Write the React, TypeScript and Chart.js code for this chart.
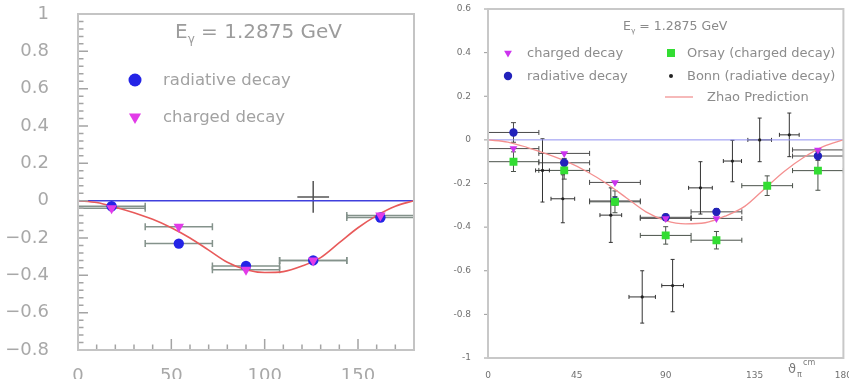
import React, { useEffect, useRef } from 'react';
import { Chart, registerables } from 'chart.js';

Chart.register(...registerables);

const FONT = "'DejaVu Sans', 'Liberation Sans', sans-serif";

// ---------- shared prediction curve (Zhao) ----------
const zhaoX = [0, 10, 20, 30, 40, 50, 60, 70, 80, 90, 100, 110, 120, 130, 140, 150, 160, 170, 180];
const zhaoY = [0, -0.01, -0.035, -0.065, -0.1, -0.145, -0.2, -0.265, -0.33, -0.37, -0.385, -0.38, -0.35, -0.305, -0.225, -0.145, -0.08, -0.03, 0];

// ---------- left panel ----------
const leftBins = [18, 54, 90, 126, 162];
const leftBinHalf = [18, 18, 18, 18, 18];
const leftRadiative = [-0.03, -0.23, -0.35, -0.32, -0.09];
const leftCharged = [-0.04, -0.14, -0.37, -0.32, -0.08];
const leftExtraX = [126];
const leftExtraY = [0.02];
const leftExtraXErr = [8.5];
const leftExtraYErr = [0.085];
const leftYTicks = [1, 0.8, 0.6, 0.4, 0.2, 0, -0.2, -0.4, -0.6, -0.8];
const leftYTickLabels = ['1', '0.8', '0.6', '0.4', '0.2', '0', '\u22120.2', '\u22120.4', '\u22120.6', '\u22120.8'];
const leftXTicks = [0, 50, 100, 150];
const leftXTickLabels = ['0', '50', '100', '150'];

// ---------- right panel ----------
const rightChargedX = [12.9, 38.6, 64.3, 90, 115.7, 167.1];
const rightChargedY = [-0.04, -0.062, -0.195, -0.36, -0.36, -0.046];
const rightChargedXErr = [12.86, 12.86, 12.86, 12.86, 12.86, 12.86];
const rightRadiativeX = [12.9, 38.6, 64.3, 90, 115.7, 167.1];
const rightRadiativeY = [0.034, -0.105, -0.28, -0.355, -0.33, -0.074];
const rightRadiativeXErr = [12.86, 12.86, 12.86, 12.86, 12.86, 12.86];
const rightRadiativeYErr = [0.045, 0.02, 0.02, 0.015, 0.015, 0.02];
const orsayX = [12.9, 38.6, 64.3, 90, 115.7, 141.4, 167.1];
const orsayY = [-0.1, -0.14, -0.284, -0.438, -0.46, -0.21, -0.141];
const orsayXErr = [12.86, 12.86, 12.86, 12.86, 12.86, 12.86, 12.86];
const orsayYErr = [0.045, 0.04, 0.05, 0.04, 0.04, 0.045, 0.09];
const bonnX = [27.6, 37.9, 62.2, 78.1, 93.5, 107.6, 123.8, 137.6, 152.6];
const bonnY = [-0.14, -0.27, -0.345, -0.72, -0.668, -0.22, -0.097, 0.0, 0.023];
const bonnXErr = [3.5, 6, 5.5, 6.7, 5.5, 6, 4.6, 6, 5];
const bonnYErr = [0.145, 0.11, 0.125, 0.12, 0.12, 0.12, 0.095, 0.1, 0.1];
const rightYTicks = [0.6, 0.4, 0.2, 0, -0.2, -0.4, -0.6, -0.8, -1];
const rightYTickLabels = ['0.6', '0.4', '0.2', '0', '-0.2', '-0.4', '-0.6', '-0.8', '-1'];
const rightXTicks = [0, 45, 90, 135, 180];
const rightXTickLabels = ['0', '45', '90', '135', '180'];

type ErrSet = {
  xs: number[];
  ys: number[];
  xerr?: number[];
  yerr?: number[];
  color: string;
  width: number;
  cap: number;
};

function makeErrorPlugin(sets: ErrSet[]) {
  return {
    id: 'errorBars',
    beforeDatasetsDraw(chart: any) {
      const { ctx, chartArea: a } = chart;
      const xs = chart.scales.x;
      const ys = chart.scales.y;
      ctx.save();
      ctx.beginPath();
      ctx.rect(a.left, a.top, a.right - a.left, a.bottom - a.top);
      ctx.clip();
      for (const s of sets) {
        ctx.strokeStyle = s.color;
        ctx.lineWidth = s.width;
        for (let i = 0; i < s.xs.length; i++) {
          const xv = s.xs[i];
          const yv = s.ys[i];
          const px = xs.getPixelForValue(xv);
          const py = ys.getPixelForValue(yv);
          const xe = s.xerr ? s.xerr[i] : 0;
          const ye = s.yerr ? s.yerr[i] : 0;
          ctx.beginPath();
          if (xe) {
            const l = xs.getPixelForValue(xv - xe);
            const r = xs.getPixelForValue(xv + xe);
            ctx.moveTo(l, py);
            ctx.lineTo(r, py);
            if (s.cap) {
              ctx.moveTo(l, py - s.cap);
              ctx.lineTo(l, py + s.cap);
              ctx.moveTo(r, py - s.cap);
              ctx.lineTo(r, py + s.cap);
            }
          }
          if (ye) {
            const t = ys.getPixelForValue(yv + ye);
            const b = ys.getPixelForValue(yv - ye);
            ctx.moveTo(px, t);
            ctx.lineTo(px, b);
            if (s.cap) {
              ctx.moveTo(px - s.cap, t);
              ctx.lineTo(px + s.cap, t);
              ctx.moveTo(px - s.cap, b);
              ctx.lineTo(px + s.cap, b);
            }
          }
          ctx.stroke();
        }
      }
      ctx.restore();
    },
  };
}

function drawCircle(ctx: CanvasRenderingContext2D, x: number, y: number, r: number, color: string) {
  ctx.fillStyle = color;
  ctx.beginPath();
  ctx.arc(x, y, r, 0, Math.PI * 2);
  ctx.fill();
}

function drawTriDown(ctx: CanvasRenderingContext2D, x: number, y: number, r: number, color: string) {
  ctx.fillStyle = color;
  ctx.beginPath();
  ctx.moveTo(x, y + r);
  ctx.lineTo(x - r * 0.866, y - r * 0.5);
  ctx.lineTo(x + r * 0.866, y - r * 0.5);
  ctx.closePath();
  ctx.fill();
}

function drawEgamma(ctx: CanvasRenderingContext2D, x: number, y: number, size: number, color: string) {
  ctx.fillStyle = color;
  ctx.textBaseline = 'middle';
  ctx.textAlign = 'left';
  ctx.font = `${size}px ${FONT}`;
  ctx.fillText('E', x, y);
  let cx = x + ctx.measureText('E').width;
  ctx.font = `${size * 0.6}px ${FONT}`;
  ctx.fillText('\u03b3', cx, y + size * 0.35);
  cx += ctx.measureText('\u03b3').width;
  ctx.font = `${size}px ${FONT}`;
  ctx.fillText(' = 1.2875 GeV', cx, y);
}

const leftDecor = {
  id: 'leftDecor',
  afterDatasetsDraw(chart: any) {
    const { ctx, chartArea: a } = chart;
    const xs = chart.scales.x;
    const ys = chart.scales.y;
    ctx.save();
    ctx.strokeStyle = '#a4a4a4';
    ctx.lineWidth = 1.5;
    ctx.beginPath();
    for (let k = 0; k <= 45; k++) {
      const p = ys.getPixelForValue(-0.8 + k * 0.04);
      const major = k % 5 === 0;
      ctx.moveTo(a.left, p);
      ctx.lineTo(a.left + (major ? 10 : 5.5), p);
    }
    for (let k = 0; k <= 18; k++) {
      const p = xs.getPixelForValue(k * 10);
      const major = k % 5 === 0;
      ctx.moveTo(p, a.bottom);
      ctx.lineTo(p, a.bottom - (major ? 11 : 5.5));
    }
    ctx.stroke();
    ctx.strokeStyle = '#c4c4c4';
    ctx.lineWidth = 2;
    ctx.strokeRect(a.left, a.top, a.right - a.left, a.bottom - a.top);

    drawEgamma(ctx, 175, 33, 20, '#9c9c9c');
    drawCircle(ctx, 135, 80, 6.5, '#2424e6');
    drawTriDown(ctx, 135, 117, 7, '#e23be8');
    ctx.fillStyle = '#a2a2a2';
    ctx.font = `16.5px ${FONT}`;
    ctx.textBaseline = 'middle';
    ctx.textAlign = 'left';
    ctx.fillText('radiative decay', 163, 81);
    ctx.fillText('charged decay', 163, 118);
    ctx.restore();
  },
};

const rightDecor = {
  id: 'rightDecor',
  afterDatasetsDraw(chart: any) {
    const { ctx, chartArea: a } = chart;
    const ys = chart.scales.y;
    ctx.save();
    ctx.strokeStyle = '#9a9a9a';
    ctx.lineWidth = 1;
    ctx.beginPath();
    for (const v of rightYTicks) {
      const p = ys.getPixelForValue(v);
      ctx.moveTo(a.left - 4, p);
      ctx.lineTo(a.left, p);
    }
    ctx.stroke();
    ctx.strokeStyle = '#c8c8c8';
    ctx.lineWidth = 2;
    ctx.strokeRect(a.left, a.top, a.right - a.left, a.bottom - a.top);

    drawEgamma(ctx, 203, 27, 12.5, '#8a8a8a');
    // legend markers
    drawTriDown(ctx, 88, 53, 4.5, '#cc33ee');
    drawCircle(ctx, 88, 76, 4.2, '#2222bb');
    ctx.fillStyle = '#33dd33';
    ctx.fillRect(247, 49, 8, 8);
    drawCircle(ctx, 251, 76, 2, '#222');
    ctx.strokeStyle = '#f08a8a';
    ctx.lineWidth = 1.2;
    ctx.beginPath();
    ctx.moveTo(245, 97);
    ctx.lineTo(273, 97);
    ctx.stroke();
    ctx.fillStyle = '#8c8c8c';
    ctx.font = `13px ${FONT}`;
    ctx.textBaseline = 'middle';
    ctx.textAlign = 'left';
    ctx.fillText('charged decay', 107, 54);
    ctx.fillText('radiative decay', 107, 77);
    ctx.fillText('Orsay (charged decay)', 267, 54);
    ctx.fillText('Bonn (radiative decay)', 267, 77);
    ctx.fillText('Zhao Prediction', 287, 98);
    // axis title
    ctx.fillStyle = '#7a7a7a';
    ctx.font = `13px ${FONT}`;
    ctx.fillText('\u03d1', 368, 370);
    ctx.font = `8px ${FONT}`;
    ctx.fillText('\u03c0', 377, 375);
    ctx.fillText('cm', 383, 363);
    ctx.restore();
  },
};

function baseScales(opts: {
  xTicks: number[]; xLabels: string[]; yTicks: number[]; yLabels: string[];
  xmin: number; xmax: number; ymin: number; ymax: number;
  xHeight: number; yWidth: number; xPad: number; yPad: number;
  size: number; color: string;
}) {
  return {
    x: {
      type: 'linear',
      min: opts.xmin,
      max: opts.xmax,
      grid: { display: false },
      border: { display: false },
      afterBuildTicks: (s: any) => { s.ticks = opts.xTicks.map((v) => ({ value: v })); },
      afterFit: (s: any) => { s.height = opts.xHeight; s.paddingLeft = 0; s.paddingRight = 0; },
      ticks: {
        autoSkip: false, maxRotation: 0, minRotation: 0, padding: opts.xPad, color: opts.color,
        font: { family: FONT, size: opts.size },
        callback: (_v: any, i: number) => opts.xLabels[i],
      },
    },
    y: {
      type: 'linear',
      min: opts.ymin,
      max: opts.ymax,
      grid: { display: false },
      border: { display: false },
      afterBuildTicks: (s: any) => { s.ticks = opts.yTicks.map((v) => ({ value: v })); },
      afterFit: (s: any) => { s.width = opts.yWidth; s.paddingTop = 0; s.paddingBottom = 0; },
      ticks: {
        autoSkip: false, padding: opts.yPad, color: opts.color,
        font: { family: FONT, size: opts.size },
        callback: (_v: any, i: number) => opts.yLabels[i],
      },
    },
  };
}

function LeftChart() {
  const ref = useRef<HTMLCanvasElement>(null);
  useEffect(() => {
    const chart = new Chart(ref.current as HTMLCanvasElement, {
      type: 'scatter',
      data: {
        datasets: [
          { label: 'charged decay', data: leftBins.map((x, i) => ({ x, y: leftCharged[i] })), pointStyle: 'triangle', rotation: 180, pointRadius: 6, backgroundColor: '#e23be8', borderColor: '#e23be8', borderWidth: 0, order: 1 },
          { label: 'radiative decay', data: leftBins.map((x, i) => ({ x, y: leftRadiative[i] })), pointStyle: 'circle', pointRadius: 5.2, backgroundColor: '#2424e6', borderColor: '#2424e6', borderWidth: 0, order: 2 },
          { label: 'extra', data: leftExtraX.map((x, i) => ({ x, y: leftExtraY[i] })), pointRadius: 0, order: 3 },
          { label: 'Zhao', data: zhaoX.map((x, i) => ({ x, y: zhaoY[i] })), showLine: true, pointRadius: 0, borderColor: '#e85a5a', borderWidth: 1.6, cubicInterpolationMode: 'monotone', order: 4 },
          { label: 'zero', data: [{ x: 0, y: 0 }, { x: 180, y: 0 }], showLine: true, pointRadius: 0, borderColor: '#4040dd', borderWidth: 1.5, order: 5 },
        ] as any,
      },
      options: {
        responsive: false,
        animation: false,
        events: [],
        layout: { padding: { left: 0, right: 3, top: 14, bottom: 0 } },
        plugins: { legend: { display: false }, tooltip: { enabled: false } },
        scales: baseScales({
          xTicks: leftXTicks, xLabels: leftXTickLabels, yTicks: leftYTicks, yLabels: leftYTickLabels,
          xmin: 0, xmax: 180, ymin: -0.8, ymax: 1, xHeight: 29, yWidth: 78, xPad: 8, yPad: 21,
          size: 18, color: '#a8a8a8',
        }) as any,
      },
      plugins: [
        makeErrorPlugin([
          { xs: leftBins, ys: leftRadiative, xerr: leftBinHalf, color: '#84928b', width: 1.5, cap: 3.5 },
          { xs: leftBins, ys: leftCharged, xerr: leftBinHalf, color: '#84928b', width: 1.5, cap: 3.5 },
          { xs: leftExtraX, ys: leftExtraY, xerr: leftExtraXErr, yerr: leftExtraYErr, color: '#555', width: 1.5, cap: 0 },
        ]),
        leftDecor,
      ],
    });
    return () => chart.destroy();
  }, []);
  return <canvas ref={ref} width={420} height={379} style={{ display: 'block' }} />;
}

function RightChart() {
  const ref = useRef<HTMLCanvasElement>(null);
  useEffect(() => {
    const chart = new Chart(ref.current as HTMLCanvasElement, {
      type: 'scatter',
      data: {
        datasets: [
          { label: 'Orsay (charged decay)', data: orsayX.map((x, i) => ({ x, y: orsayY[i] })), pointStyle: 'rect', pointRadius: 5.6, backgroundColor: '#33dd33', borderColor: '#33dd33', borderWidth: 0, order: 1 },
          { label: 'charged decay', data: rightChargedX.map((x, i) => ({ x, y: rightChargedY[i] })), pointStyle: 'triangle', rotation: 180, pointRadius: 4.5, backgroundColor: '#cc33ee', borderColor: '#cc33ee', borderWidth: 0, order: 2 },
          { label: 'radiative decay', data: rightRadiativeX.map((x, i) => ({ x, y: rightRadiativeY[i] })), pointStyle: 'circle', pointRadius: 4.2, backgroundColor: '#2222bb', borderColor: '#2222bb', borderWidth: 0, order: 3 },
          { label: 'Bonn (radiative decay)', data: bonnX.map((x, i) => ({ x, y: bonnY[i] })), pointStyle: 'circle', pointRadius: 1.6, backgroundColor: '#222', borderColor: '#222', borderWidth: 0, order: 4 },
          { label: 'Zhao Prediction', data: zhaoX.map((x, i) => ({ x, y: zhaoY[i] })), showLine: true, pointRadius: 0, borderColor: '#f49090', borderWidth: 1.3, cubicInterpolationMode: 'monotone', order: 5 },
          { label: 'zero', data: [{ x: 0, y: 0 }, { x: 180, y: 0 }], showLine: true, pointRadius: 0, borderColor: '#9090f0', borderWidth: 1, order: 6 },
        ] as any,
      },
      options: {
        responsive: false,
        animation: false,
        events: [],
        layout: { padding: { left: 0, right: 3, top: 9, bottom: 0 } },
        plugins: { legend: { display: false }, tooltip: { enabled: false } },
        scales: baseScales({
          xTicks: rightXTicks, xLabels: rightXTickLabels, yTicks: rightYTicks, yLabels: rightYTickLabels,
          xmin: 0, xmax: 180, ymin: -1, ymax: 0.6, xHeight: 21, yWidth: 68, xPad: 4, yPad: 9,
          size: 9, color: '#707070',
        }) as any,
      },
      plugins: [
        makeErrorPlugin([
          { xs: orsayX, ys: orsayY, xerr: orsayXErr, yerr: orsayYErr, color: '#4a524a', width: 1, cap: 2.5 },
          { xs: rightChargedX, ys: rightChargedY, xerr: rightChargedXErr, color: '#4a4a4a', width: 1, cap: 2.5 },
          { xs: rightRadiativeX, ys: rightRadiativeY, xerr: rightRadiativeXErr, yerr: rightRadiativeYErr, color: '#4a4a4a', width: 1, cap: 2.5 },
          { xs: bonnX, ys: bonnY, xerr: bonnXErr, yerr: bonnYErr, color: '#333', width: 1, cap: 2 },
        ]),
        rightDecor,
      ],
    });
    return () => chart.destroy();
  }, []);
  return <canvas ref={ref} width={429} height={379} style={{ display: 'block' }} />;
}

export default function App() {
  return (
    <div style={{ position: 'absolute', left: 0, top: 0, width: 849, height: 379, background: '#fff', overflow: 'hidden' }}>
      <div style={{ position: 'absolute', left: 0, top: 0, width: 420, height: 379 }}>
        <LeftChart />
      </div>
      <div style={{ position: 'absolute', left: 420, top: 0, width: 429, height: 379 }}>
        <RightChart />
      </div>
    </div>
  );
}
